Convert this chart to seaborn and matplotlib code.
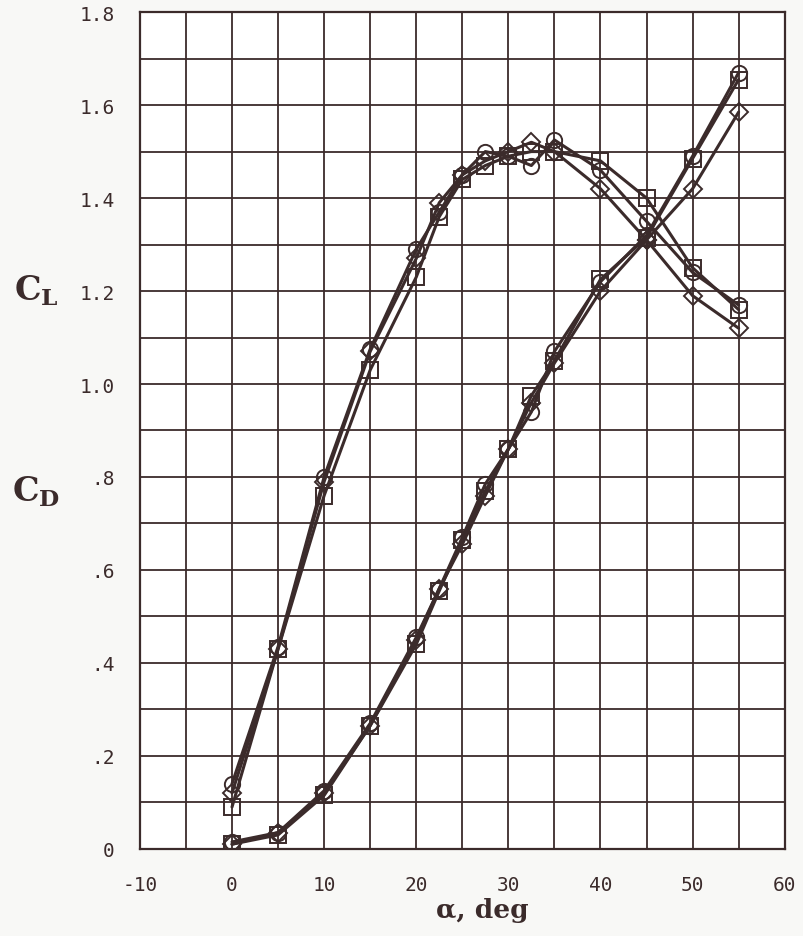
import seaborn as sns
import matplotlib.pyplot as plt
import numpy as np
import pandas as pd

# angle of attack, deg
alpha = [0, 5, 10, 15, 20, 22.5, 25, 27.5, 30, 32.5, 35, 40, 45, 50, 55]

# lift coefficient, one list per configuration
cl_circle = [0.14, 0.435, 0.80, 1.075, 1.29, 1.37, 1.45, 1.50, 1.49, 1.47, 1.525, 1.46, 1.35, 1.24, 1.17]
cl_square = [0.09, 0.43, 0.76, 1.03, 1.23, 1.36, 1.44, 1.47, 1.49, 1.50, 1.50, 1.48, 1.40, 1.25, 1.16]
cl_diamond = [0.12, 0.43, 0.79, 1.07, 1.27, 1.39, 1.45, 1.48, 1.50, 1.52, 1.50, 1.42, 1.31, 1.19, 1.12]

# drag coefficient
cd_circle = [0.015, 0.035, 0.125, 0.27, 0.455, 0.56, 0.67, 0.785, 0.86, 0.94, 1.07, 1.22, 1.32, 1.49, 1.67]
cd_square = [0.01, 0.03, 0.115, 0.265, 0.44, 0.555, 0.665, 0.77, 0.86, 0.975, 1.05, 1.225, 1.315, 1.485, 1.655]
cd_diamond = [0.01, 0.035, 0.12, 0.265, 0.45, 0.56, 0.655, 0.76, 0.86, 0.96, 1.045, 1.20, 1.31, 1.42, 1.585]

x_ticks = [-10, 0, 10, 20, 30, 40, 50, 60]
y_ticks = [0, 0.2, 0.4, 0.6, 0.8, 1.0, 1.2, 1.4, 1.6, 1.8]
y_tick_labels = ["0", ".2", ".4", ".6", ".8", "1.0", "1.2", "1.4", "1.6", "1.8"]

ink = "#3b2b2b"

series = {
    "o": (cl_circle, cd_circle),
    "s": (cl_square, cd_square),
    "D": (cl_diamond, cd_diamond),
}

sns.set_style("white")
fig = plt.figure(figsize=(8.04, 9.37), dpi=100)
ax = fig.add_axes([0.174, 0.093, 0.802, 0.893])

for marker, (cl, cd) in series.items():
    ms = 9 if marker == "D" else 11
    for vals in (cl, cd):
        df = pd.DataFrame({"alpha": alpha, "coef": vals})
        sns.lineplot(data=df, x="alpha", y="coef", ax=ax, sort=False,
                     color=ink, linewidth=2.2, marker=marker, markersize=ms,
                     markerfacecolor="none", markeredgecolor=ink,
                     markeredgewidth=1.4, zorder=3)

ax.set_xlim(-10, 60)
ax.set_ylim(0, 1.8)
ax.set_xticks(x_ticks)
ax.set_xticklabels([str(t) for t in x_ticks])
ax.set_yticks(y_ticks)
ax.set_yticklabels(y_tick_labels)
ax.set_xticks(np.arange(-10, 61, 5), minor=True)
ax.set_yticks(np.arange(0, 1.81, 0.1), minor=True)
ax.grid(which="both", color=ink, linewidth=1.3)
ax.set_axisbelow(True)
for sp in ax.spines.values():
    sp.set_color(ink)
    sp.set_linewidth(1.6)
ax.tick_params(which="both", length=0, colors=ink)
ax.tick_params(axis="x", pad=19)
ax.tick_params(axis="y", pad=18)
for lab in ax.get_xticklabels() + ax.get_yticklabels():
    lab.set_fontfamily("DejaVu Sans Mono")
    lab.set_fontsize(14)
ax.set_xlabel("")
ax.set_ylabel("")

plt.rcParams["mathtext.fontset"] = "dejavuserif"
fig.text(0.045, 0.69, r"$\mathbf{C_L}$", fontsize=24, color=ink, ha="center", va="center")
fig.text(0.045, 0.475, r"$\mathbf{C_D}$", fontsize=24, color=ink, ha="center", va="center")
fig.text(0.6, 0.028, "α, deg", fontsize=19, fontfamily="DejaVu Serif", fontweight="bold",
         color=ink, ha="center", va="center")

fig.savefig("out.png", dpi=100, facecolor="#f8f8f6")
